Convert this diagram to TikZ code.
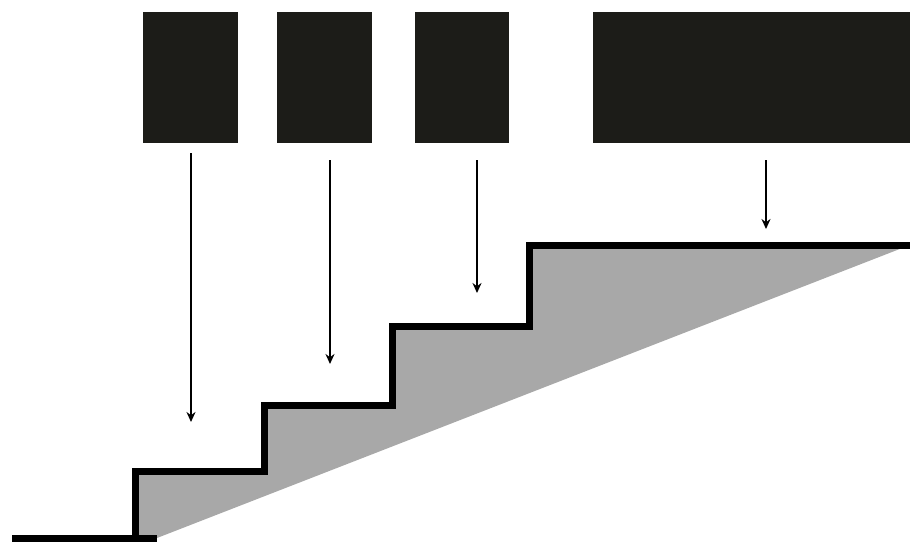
\documentclass[tikz,border=0pt]{standalone}
\usetikzlibrary{arrows.meta}
\definecolor{boxc}{HTML}{1C1C18}
\definecolor{stairfill}{HTML}{A8A8A8}
\begin{document}
\begin{tikzpicture}[x=1pt,y=-1pt,
  blk/.style={fill=boxc,draw=none,inner sep=0pt,anchor=north west},
  arr/.style={line width=2.6pt,-{Stealth[length=10pt,width=9pt]}},
  stair/.style={line width=7pt,line join=miter}]
\useasboundingbox (0,0) rectangle (910,546);
\node[blk,minimum width=95pt,minimum height=131pt] (b1) at (143,12) {};
\node[blk,minimum width=95pt,minimum height=131pt] (b2) at (277,12) {};
\node[blk,minimum width=94pt,minimum height=131pt] (b3) at (415,12) {};
\node[blk,minimum width=317pt,minimum height=131pt] (b4) at (593,12) {};
\coordinate (a1s) at (191,153); \coordinate (a1e) at (191,422);
\coordinate (a2s) at (330,160); \coordinate (a2e) at (330,364);
\coordinate (a3s) at (477,160); \coordinate (a3e) at (477,293);
\coordinate (a4s) at (766,160); \coordinate (a4e) at (766,229);
\draw[arr] (a1s) -- (a1e);
\draw[arr] (a2s) -- (a2e);
\draw[arr] (a3s) -- (a3e);
\draw[arr] (a4s) -- (a4e);
\fill[stairfill] (135,538) -- (135,471) -- (264,471) -- (264,405) -- (392,405) -- (392,326) -- (529,326) -- (529,245) -- (910,245) -- (157,538) -- cycle;
\draw[stair] (12,538) -- (157,538);
\draw[stair] (135,541.5) -- (135,471) -- (264,471) -- (264,405) -- (392,405) -- (392,326) -- (529,326) -- (529,245) -- (910,245);
\end{tikzpicture}
\end{document}
